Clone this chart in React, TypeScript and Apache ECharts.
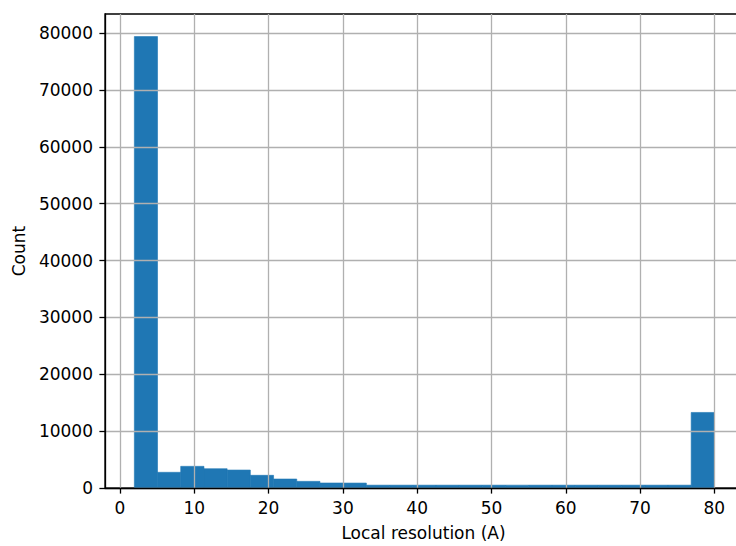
import React, { useEffect, useRef } from "react";
import * as echarts from "echarts";

const binEdges = [
  1.93, 5.05, 8.17, 11.3, 14.42, 17.54, 20.67, 23.79, 26.91, 30.03, 33.16,
  36.28, 39.4, 42.53, 45.65, 48.77, 51.9, 55.02, 58.14, 61.27, 64.39, 67.51,
  70.64, 73.76, 76.88, 80.0,
];
const counts = [
  79400, 2760, 3810, 3390, 3160, 2230, 1580, 1170, 880, 870, 500, 500, 500,
  500, 500, 500, 500, 500, 500, 500, 500, 500, 500, 500, 13290,
];
const xTicks = [0, 10, 20, 30, 40, 50, 60, 70, 80];
const yTicks = [0, 10000, 20000, 30000, 40000, 50000, 60000, 70000, 80000];
const xName = "Local resolution (A)";
const yName = "Count";

const FONT = "DejaVu Sans";
const FS = 17;

export default function App() {
  const ref = useRef<HTMLDivElement>(null);
  useEffect(() => {
    if (!ref.current) return;
    const chart = echarts.init(ref.current, undefined, { renderer: "svg" });
    const data = counts.map((c, i) => [binEdges[i], binEdges[i + 1], c]);
    const maxCount = Math.max(...counts);
    chart.setOption({
      animation: false,
      backgroundColor: "#ffffff",
      grid: {
        left: 105,
        right: 18,
        top: 14,
        bottom: 57,
        show: true,
        borderColor: "#000",
        borderWidth: 1.3,
      },
      xAxis: {
        type: "value",
        min: -2.02,
        max: 83.72,
        interval: 10,
        z: 5,
        name: xName,
        nameLocation: "middle",
        nameGap: 36,
        nameTextStyle: { fontFamily: FONT, fontSize: FS, color: "#000" },
        axisLine: { show: true, onZero: false, lineStyle: { color: "#000", width: 1.3 } },
        axisTick: {
          show: true,
          inside: false,
          length: 5.6,
          customValues: xTicks,
          lineStyle: { color: "#000", width: 1.3 },
        },
        axisLabel: {
          customValues: xTicks,
          margin: 11,
          fontFamily: FONT,
          fontSize: FS,
          color: "#000",
          formatter: (v: number) => String(v),
        },
        splitLine: { show: true, lineStyle: { color: "#b0b0b0", width: 1.3 } },
      },
      yAxis: {
        type: "value",
        min: 0,
        max: maxCount * 1.05,
        interval: 10000,
        z: 5,
        name: yName,
        nameLocation: "middle",
        nameGap: 78,
        nameRotate: 90,
        nameTextStyle: { fontFamily: FONT, fontSize: FS, color: "#000" },
        axisLine: { show: true, onZero: false, lineStyle: { color: "#000", width: 1.3 } },
        axisTick: {
          show: true,
          inside: false,
          length: 5.6,
          customValues: yTicks,
          lineStyle: { color: "#000", width: 1.3 },
        },
        axisLabel: {
          customValues: yTicks,
          margin: 12,
          fontFamily: FONT,
          fontSize: FS,
          color: "#000",
          formatter: (v: number) => String(v),
        },
        splitLine: { show: true, lineStyle: { color: "#b0b0b0", width: 1.3 } },
      },
      series: [
        {
          type: "custom",
          z: 1,
          encode: { x: [0, 1], y: 2 },
          data,
          renderItem: (params: any, api: any) => {
            const p0 = api.coord([api.value(0), api.value(2)]);
            const p1 = api.coord([api.value(1), 0]);
            return {
              type: "rect",
              shape: { x: p0[0], y: p0[1], width: p1[0] - p0[0], height: p1[1] - p0[1] },
              style: { fill: "#1f77b4", stroke: "#1f77b4", lineWidth: 0.6 },
            };
          },
        },
      ],
    });
    return () => chart.dispose();
  }, []);
  return (
    <div
      style={{
        position: "fixed",
        left: 0,
        top: 0,
        width: 736,
        height: 546,
        overflow: "hidden",
        background: "#fff",
      }}
    >
      <div ref={ref} style={{ width: 760, height: 546 }} />
    </div>
  );
}
